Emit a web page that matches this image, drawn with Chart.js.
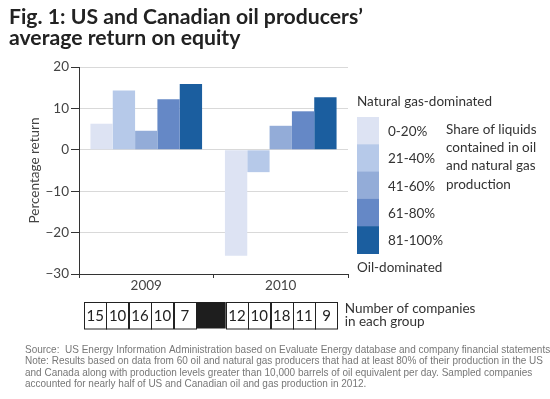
<!DOCTYPE html>
<html>
<head>
<meta charset="utf-8">
<script src="https://cdn.jsdelivr.net/npm/chart.js@4/dist/chart.umd.min.js"></script>
<style>
  html, body { margin: 0; padding: 0; background: #fff; }
  #wrap { width: 550px; height: 399px; position: relative; }
</style>
</head>
<body>
<div id="wrap"><canvas id="c" width="550" height="399"></canvas></div>
<script>
// ---- Data ----
const titleLines = ["Fig. 1: US and Canadian oil producers\u2019", "average return on equity"];
const categories = ["2009", "2010"];
const groupLabels = ["0-20%", "21-40%", "41-60%", "61-80%", "81-100%"];
const share0to20 = [6.3, -25.6];
const share21to40 = [14.3, -5.4];
const share41to60 = [4.6, 5.8];
const share61to80 = [12.2, 9.3];
const share81to100 = [15.9, 12.7];
const yTickValues = [20, 10, 0, -10, -20, -30];
const companies2009 = [15, 10, 16, 10, 7];
const companies2010 = [12, 10, 18, 11, 9];
const yAxisTitle = "Percentage return";
const legendTop = "Natural gas-dominated";
const legendBottom = "Oil-dominated";
const legendNote = ["Share of liquids", "contained in oil", "and natural gas", "production"];
const tableNote = ["Number of companies", "in each group"];
const sourceLines = [
  "Source:  US Energy Information Administration based on Evaluate Energy database and company financial statements",
  "Note: Results based on data from 60 oil and natural gas producers that had at least 80% of their production in the US",
  "and Canada along with production levels greater than 10,000 barrels of oil equivalent per day. Sampled companies",
  "accounted for nearly half of US and Canadian oil and gas production in 2012."
];
const colors = ["#dde3f3", "#b6c9e9", "#93acd8", "#6588c6", "#1b5e9f"];
const seriesValues = [share0to20, share21to40, share41to60, share61to80, share81to100];

const FONT = "Lato, 'Open Sans', sans-serif";

const decorPlugin = {
  id: 'decor',
  afterDraw(chart) {
    const ctx = chart.ctx;
    const area = chart.chartArea;
    ctx.save();
    // Title
    ctx.fillStyle = "#222";
    ctx.textBaseline = "alphabetic";
    ctx.textAlign = "left";
    ctx.font = "bold 22px " + FONT;
    const w0 = ctx.measureText(titleLines[0]).width;
    const tSize = 22 * 354 / w0;
    ctx.font = "bold " + tSize.toFixed(2) + "px " + FONT;
    ctx.fillText(titleLines[0], 9, 24);
    ctx.fillText(titleLines[1], 9, 45);

    // Legend
    const lx = area.right + 9, sw = 22, top = 117, sh = 27.3;
    ctx.font = "13.5px " + FONT;
    ctx.fillStyle = "#333";
    ctx.textBaseline = "middle";
    ctx.fillText(legendTop, lx, 102);
    for (let i = 0; i < groupLabels.length; i++) {
      ctx.fillStyle = colors[i];
      ctx.fillRect(lx, top + i * sh, sw, sh + 0.5);
      ctx.fillStyle = "#333";
      ctx.fillText(groupLabels[i], lx + 31, top + i * sh + sh / 2 + 1);
    }
    ctx.fillText(legendBottom, lx, 268);
    legendNote.forEach((t, i) => ctx.fillText(t, lx + 89, 129.5 + i * 18.3));

    // Company count table
    const tx0 = area.left + 5, ty = 302, th = 26.5, cw = 22.4, gap = 29.7;
    const cells = [];
    let x = tx0;
    companies2009.forEach(v => { cells.push({x, w: cw, v}); x += cw; });
    cells.push({x, w: gap, v: null}); x += gap;
    companies2010.forEach(v => { cells.push({x, w: cw, v}); x += cw; });
    ctx.lineWidth = 1;
    ctx.strokeStyle = "#222";
    ctx.font = "15px " + FONT;
    ctx.textAlign = "center";
    cells.forEach(c => {
      if (c.v === null) {
        ctx.fillStyle = "#1e1e1e";
        ctx.fillRect(c.x, ty, c.w, th);
      } else {
        ctx.strokeRect(Math.round(c.x) + 0.5, ty + 0.5, Math.round(c.w), th);
        ctx.fillStyle = "#222";
        ctx.fillText(String(c.v), c.x + c.w / 2, ty + th / 2 + 1);
      }
    });
    ctx.textAlign = "left";
    ctx.fillStyle = "#333";
    ctx.font = "13.5px " + FONT;
    ctx.fillText(tableNote[0], x + 7, 309);
    ctx.fillText(tableNote[1], x + 7, 321.5);

    // Source note
    ctx.font = "11.5px 'Liberation Sans Narrow', 'Arial Narrow', sans-serif";
    const w1 = ctx.measureText(sourceLines[1]).width;
    const sx = 518 / w1;
    ctx.fillStyle = "#777";
    ctx.textBaseline = "alphabetic";
    sourceLines.forEach((t, i) => {
      ctx.save();
      ctx.translate(25, 353 + i * 11.4);
      ctx.scale(sx, 1);
      ctx.fillText(t, 0, 0);
      ctx.restore();
    });
    ctx.restore();
  }
};

new Chart(document.getElementById('c'), {
  type: 'bar',
  data: {
    labels: categories,
    datasets: groupLabels.map((g, i) => ({
      label: g,
      data: seriesValues[i],
      backgroundColor: colors[i],
      borderWidth: 0,
      categoryPercentage: 0.83,
      barPercentage: 1.0
    }))
  },
  options: {
    responsive: false,
    animation: false,
    devicePixelRatio: 1,
    layout: { padding: { top: 67, left: 0, right: 202, bottom: 100 } },
    plugins: { legend: { display: false }, tooltip: { enabled: false }, title: { display: false } },
    scales: {
      x: {
        grid: { display: true, drawOnChartArea: false, drawTicks: true, tickLength: 4, tickColor: '#333', offset: true },
        border: { display: true, color: '#333', width: 1 },
        ticks: { color: '#444', font: { family: FONT, size: 13.5 }, padding: 0, maxRotation: 0 },
        afterFit(s) { s.height = 25; }
      },
      y: {
        min: -30, max: 20,
        afterBuildTicks(s) { s.ticks = yTickValues.map(v => ({ value: v })); },
        grid: { color: '#d9d9d9', lineWidth: 1, drawTicks: true, tickLength: 8, tickColor: '#333' },
        border: { display: true, color: '#333', width: 1 },
        ticks: {
          color: '#444', font: { family: FONT, size: 13.5 }, padding: 2,
          callback: v => String(v).replace('-', '\u2212')
        },
        title: { display: true, text: yAxisTitle, color: '#444', font: { family: FONT, size: 13.5 }, padding: { top: 27, bottom: 0 } },
        afterFit(s) { s.width = 79; }
      }
    }
  },
  plugins: [decorPlugin]
});
</script>
</body>
</html>
